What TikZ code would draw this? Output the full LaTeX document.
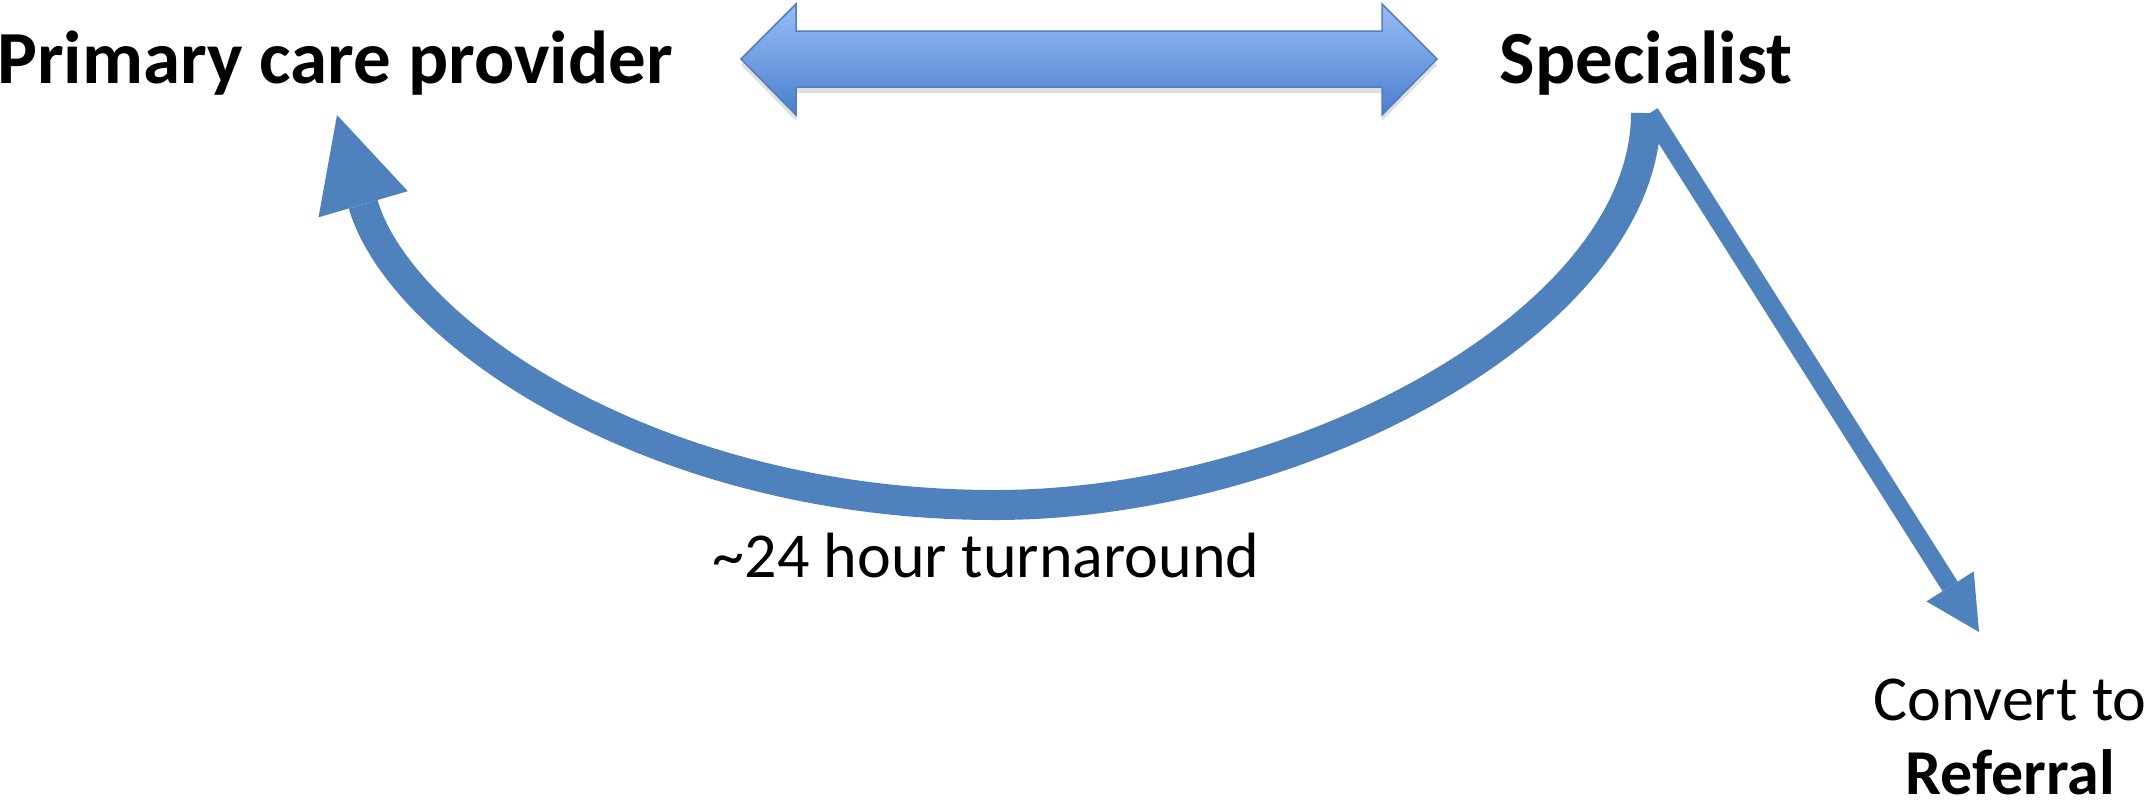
\documentclass[tikz,border=0pt]{standalone}
\usepackage{fontspec}
\setmainfont{Carlito}
\usetikzlibrary{arrows.meta,shadows}
\definecolor{arrblue}{RGB}{79,129,189}
\definecolor{dtop}{RGB}{152,189,246}
\definecolor{dbot}{RGB}{74,127,206}
\definecolor{dedge}{RGB}{80,126,190}
\begin{document}
\begin{tikzpicture}[x=1pt,y=-1pt,
  title/.style={inner sep=0pt, font=\fontsize{75}{90}\selectfont\bfseries},
  body/.style={inner sep=0pt, font=\fontsize{64}{74}\selectfont},
  bigarrow/.style={draw=arrblue, line width=30pt,
    -{Triangle[length=93pt,width=93pt,line width=0pt]}},
  thinarrow/.style={draw=arrblue, line width=18pt,
    -{Triangle[length=54pt,width=56pt,line width=0pt]}},
  dblarrow/.style={top color=dtop, bottom color=dbot, draw=dedge, line width=1.5pt,
    drop shadow={opacity=0.25, shadow xshift=0pt, shadow yshift=-6pt}}
]
\useasboundingbox (0,0) rectangle (2151,806);

% text nodes
\node[title, anchor=base west] (pcp) at (-3,83) {Primary care provider};
\node[title, anchor=base] (spec) at (1646,83) {Specialist};
\node[body, anchor=base] (turn) at (986,577) {\textasciitilde 24 hour turnaround};
\node[body, align=center, anchor=south] (ref) at (2010,795) {Convert to\\\textbf{Referral}};

% double arrow between provider and specialist
\path[dblarrow] (741,59) -- (796,4) -- (796,31) -- (1382,31) -- (1382,4)
  -- (1437,59) -- (1382,115) -- (1382,87) -- (796,87) -- (796,115) -- cycle;

% connector coordinates
\coordinate (cA) at (1646,113);
\coordinate (cB) at (337,115);
\coordinate (rA) at (1650,113);
\coordinate (rB) at (1979,632);

% curved return arrow
\draw[bigarrow] (cA) .. controls (1646,320) and (1300,505) .. (995,505)
  .. controls (650,505) and (400,330) .. (cB);

% straight arrow to referral
\draw[thinarrow] (rA) -- (rB);
\end{tikzpicture}
\end{document}
